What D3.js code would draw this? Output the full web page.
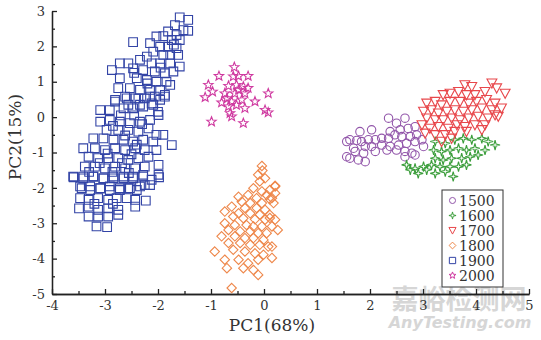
<!DOCTYPE html>
<html>
<head>
<meta charset="utf-8">
<script src="https://cdn.jsdelivr.net/npm/d3@7"></script>
<style>
  html, body { margin: 0; padding: 0; background: #fff; }
  svg { display: block; }
  .tick text { font-family: "DejaVu Serif", serif; font-size: 13px; fill: #333; }
</style>
</head>
<body>
<svg id="chart" width="541" height="340"></svg>
<script>
// PCA score plot: six groups, one small array of [PC1, PC2] pairs each,
// read off the reference picture.

const LABELS = ["1500", "1600", "1700", "1800", "1900", "2000"];

const pts1500 = [
  [2.35,-0.03],[2.50,-0.17],[2.66,-0.03],[1.81,-0.41],[2.03,-0.36],[2.38,-0.41],[2.57,-0.36],
  [2.72,-0.32],[2.85,-0.27],[1.62,-0.64],[1.75,-0.66],[1.84,-0.69],[1.97,-0.64],[2.10,-0.64],
  [2.22,-0.60],[2.35,-0.60],[2.47,-0.50],[2.60,-0.55],[2.76,-0.55],[2.88,-0.50],[1.56,-0.69],
  [1.69,-0.88],[1.91,-0.83],[2.03,-0.83],[2.22,-0.79],[2.38,-0.83],[2.54,-0.79],[2.69,-0.74],
  [2.85,-0.69],[2.98,-0.64],[1.56,-1.12],[1.72,-0.97],[1.88,-1.02],[2.10,-0.97],[2.32,-0.93],
  [2.50,-0.93],[2.66,-0.97],[2.79,-1.02],[1.62,-1.16],[1.78,-1.21],[1.91,-1.26],[2.66,-1.12],
  [2.85,-1.07],[3.01,-0.83]
];

const pts1600 = [
  [3.23,-0.69],[3.42,-0.74],[3.60,-0.64],[3.76,-0.60],[3.92,-0.64],[4.11,-0.60],[4.23,-0.69],
  [4.36,-0.79],[3.20,-0.93],[3.35,-0.97],[3.51,-0.93],[3.67,-0.88],[3.82,-0.93],[3.98,-0.88],
  [4.17,-0.93],[3.23,-1.16],[3.38,-1.21],[3.54,-1.16],[3.73,-1.16],[3.89,-1.12],[4.04,-1.07],
  [2.69,-1.35],[2.85,-1.45],[3.01,-1.40],[3.16,-1.35],[3.32,-1.40],[3.51,-1.40],[3.67,-1.40],
  [3.82,-1.35],[2.91,-1.59],[3.23,-1.59],[3.42,-1.54],[3.57,-1.68],[3.07,-1.49],[2.76,-1.49]
];

const pts1700 = [
  [3.79,0.91],[3.92,0.86],[4.30,0.96],[4.55,0.67],[3.38,0.63],[3.51,0.67],[3.67,0.72],
  [3.82,0.63],[3.98,0.63],[4.17,0.72],[4.39,0.82],[3.07,0.39],[3.23,0.44],[3.35,0.34],
  [3.51,0.44],[3.70,0.44],[3.86,0.39],[4.01,0.44],[4.20,0.49],[4.36,0.39],[3.01,0.16],
  [3.16,0.20],[3.29,0.11],[3.45,0.16],[3.60,0.20],[3.76,0.16],[3.92,0.20],[4.11,0.25],
  [4.30,0.20],[4.48,0.25],[3.07,-0.03],[3.23,-0.08],[3.38,-0.08],[3.54,-0.03],[3.70,-0.08],
  [3.86,-0.03],[4.04,0.02],[4.23,-0.03],[4.42,0.02],[2.98,-0.22],[3.13,-0.32],[3.29,-0.27],
  [3.48,-0.32],[3.64,-0.22],[3.79,-0.27],[3.98,-0.22],[4.17,-0.22],[4.36,0.06],[3.04,-0.46],
  [3.23,-0.50],[3.42,-0.50],[3.60,-0.41],[3.82,-0.41],[4.11,-0.36],[3.35,-0.69],[3.54,-0.60]
];

const pts1800 = [
  [-0.04,-1.38],[-0.03,-1.51],[-0.11,-1.63],[0.02,-1.73],[-0.08,-1.82],[0.21,-1.94],[-0.20,-2.01],
  [0.11,-2.06],[-0.04,-2.10],[-0.48,-2.25],[-0.30,-2.20],[0.05,-2.20],[0.21,-2.15],[-0.14,-2.29],
  [0.11,-2.32],[-0.42,-2.39],[-0.26,-2.43],[-0.04,-2.43],[0.18,-2.43],[-0.61,-2.53],[-0.36,-2.57],
  [-0.14,-2.57],[0.02,-2.62],[-0.74,-2.67],[-0.48,-2.72],[-0.26,-2.72],[-0.08,-2.76],[0.11,-2.76],
  [-0.58,-2.81],[-0.39,-2.86],[-0.17,-2.89],[0.02,-2.90],[0.21,-2.90],[-0.74,-3.00],[-0.55,-3.05],
  [-0.33,-3.05],[-0.20,-3.09],[-0.04,-3.09],[0.15,-3.09],[-0.67,-3.19],[-0.45,-3.23],[-0.26,-3.23],
  [-0.11,-3.28],[0.05,-3.28],[-0.80,-3.37],[-0.55,-3.37],[-0.36,-3.42],[-0.20,-3.42],[-0.01,-3.47],
  [-0.67,-3.56],[-0.45,-3.56],[-0.26,-3.61],[-0.08,-3.61],[0.08,-3.66],[-0.93,-3.80],[-0.58,-3.75],
  [-0.36,-3.80],[-0.17,-3.85],[-0.01,-3.89],[-0.74,-4.03],[-0.48,-4.03],[-0.30,-4.13],[-0.11,-4.03],
  [-0.70,-4.27],[-0.39,-4.27],[-0.20,-4.32],[-0.11,-4.46],[-0.61,-4.83],[0.21,-1.96],[0.15,-2.29],
  [0.11,-2.85],[0.26,-3.19],[0.15,-3.66],[0.15,-3.98]
];

const pts1900 = [
  [-1.43,2.75],[-1.59,2.82],[-1.68,2.60],[-1.52,2.46],[-1.43,2.44],[-1.81,2.42],[-1.65,2.32],
  [-1.90,2.29],[-1.74,2.18],[-1.59,2.18],[-2.03,2.28],[-2.15,2.09],[-2.47,2.12],[-1.96,1.99],
  [-1.81,1.99],[-1.65,1.95],[-2.09,1.85],[-1.90,1.76],[-1.77,1.76],[-2.21,1.71],[-1.62,1.76],
  [-2.34,1.62],[-2.12,1.52],[-1.96,1.52],[-1.77,1.52],[-1.59,1.43],[-2.72,1.52],[-2.56,1.52],
  [-2.87,1.33],[-2.47,1.38],[-2.28,1.33],[-2.06,1.29],[-1.87,1.24],[-1.71,1.29],[-2.72,1.10],
  [-2.40,1.10],[-2.21,1.05],[-2.03,1.00],[-1.84,1.00],[-2.75,0.82],[-2.53,0.82],[-2.34,0.77],
  [-2.15,0.77],[-1.96,0.77],[-1.77,0.91],[-2.62,0.58],[-2.43,0.53],[-2.25,0.53],[-2.06,0.58],
  [-1.87,0.63],[-2.81,0.44],[-2.56,0.35],[-2.34,0.35],[-2.12,0.39],
  [-2.81,0.49],[-2.59,0.53],[-2.37,0.53],[-2.15,0.58],[-1.96,0.49],[-1.87,0.58],[-3.09,0.20],
  [-2.91,0.20],[-2.65,0.25],[-2.47,0.25],[-2.28,0.30],[-2.09,0.35],[-3.09,-0.13],[-2.91,-0.08],
  [-2.72,-0.13],[-2.53,-0.17],[-2.34,-0.13],[-2.15,-0.08],[-1.99,0.06],[-2.97,-0.36],[-2.75,-0.36],
  [-2.56,-0.36],[-2.37,-0.41],[-2.18,-0.32],[-2.03,-0.50],[-1.90,-0.50],[-3.22,-0.60],[-3.03,-0.60],
  [-2.84,-0.64],[-2.65,-0.64],[-2.47,-0.69],[-2.28,-0.64],[-2.09,-0.69],[-1.74,-0.79],[-3.41,-0.88],
  [-3.19,-0.88],[-3.00,-0.93],[-2.81,-0.88],[-2.62,-0.93],[-2.43,-0.88],[-2.25,-0.93],[-2.03,-0.93],
  [-3.31,-1.12],[-3.13,-1.16],[-2.94,-1.16],[-2.75,-1.16],[-2.56,-1.21],[-2.37,-1.16],[-2.18,-1.12],
  [-3.38,-1.40],[-3.19,-1.40],[-3.00,-1.45],[-2.81,-1.40],[-2.62,-1.45],[-2.43,-1.45],[-2.25,-1.40],
  [-1.99,-1.35],[-3.60,-1.68],[-3.41,-1.68],[-3.22,-1.68],[-3.03,-1.73],[-2.84,-1.73],[-2.65,-1.68],
  [-2.47,-1.73],[-2.28,-1.68],[-1.99,-1.63],[-3.47,-1.96],[-3.28,-1.96],[-3.09,-2.01],[-2.91,-1.96],
  [-2.72,-2.01],[-2.53,-2.01],[-2.34,-1.96],[-2.15,-1.92],
  [-3.59,-1.70],[-3.41,-1.73],[-3.22,-1.68],[-3.03,-1.73],[-2.84,-1.68],[-2.65,-1.73],[-2.47,-1.68],
  [-2.28,-1.63],[-2.12,-1.77],[-1.98,-1.70],[-3.44,-2.01],[-3.28,-2.06],[-3.09,-2.01],[-2.91,-2.06],
  [-2.72,-2.06],[-2.56,-2.01],[-2.40,-2.06],[-2.25,-1.92],[-3.47,-2.29],[-3.31,-2.34],[-3.13,-2.29],
  [-2.94,-2.34],[-2.78,-2.29],[-2.59,-2.29],[-2.43,-2.34],[-2.23,-2.36],[-3.49,-2.58],[-3.31,-2.53],
  [-3.13,-2.62],[-2.94,-2.58],[-2.75,-2.62],[-2.43,-2.53],[-3.31,-2.81],[-3.13,-2.81],[-2.94,-2.81],
  [-2.75,-2.76],[-3.16,-3.09],[-2.96,-3.11],
  // in-between squares of the dense core
  [-2.85,-0.25],[-2.62,-0.52],[-2.40,-0.78],[-2.95,-1.03],[-2.68,-1.30],[-2.50,-1.05],[-3.10,-1.30],
  [-2.86,-1.55],[-2.55,-1.58],[-3.30,-1.55],[-2.30,-0.20],[-2.45,0.05],[-2.70,0.05],[-2.20,0.95],
  [-2.45,1.25],[-1.95,1.40],[-1.70,2.05],[-2.00,0.15],[-3.20,-2.45],[-2.85,-2.45]
];

const pts2000 = [
  [-0.56,1.41],[-0.85,1.16],[-0.58,1.15],[-0.48,1.16],[-0.30,1.16],[-1.05,0.91],[-0.67,0.88],
  [-0.52,0.91],[-0.39,0.86],[-0.97,0.72],[-0.74,0.67],[-0.55,0.67],[-0.36,0.67],[0.08,0.67],
  [-1.11,0.56],[-0.80,0.41],[-0.61,0.44],[-0.42,0.49],[-0.17,0.44],[-0.67,0.30],[-0.36,0.25],
  [0.02,0.20],[0.08,0.13],[-0.64,0.11],[-0.61,0.02],[-0.99,-0.13],[-0.39,-0.17],[-0.48,0.77],
  [-0.70,0.53],[-0.30,0.82],[-0.52,0.34]
];

const SERIES = [pts1500, pts1600, pts1700, pts1800, pts1900, pts2000];
const COLORS = ["#9256aa", "#3c9e3c", "#e8474b", "#ee874a", "#3344a6", "#cf3aa0"];

const X_TICKS = [-4, -3, -2, -1, 0, 1, 2, 3, 4, 5];
const Y_TICKS = [-5, -4, -3, -2, -1, 0, 1, 2, 3];

// marker outlines, centred on 0,0, scaled by r
function starPath(n, rOut, rIn) {
  const p = [];
  for (let i = 0; i < n * 2; i++) {
    const r = i % 2 ? rIn : rOut;
    const a = -Math.PI / 2 + i * Math.PI / n;
    p.push([r * Math.cos(a), r * Math.sin(a)]);
  }
  return "M" + p.map(d => d.join(",")).join("L") + "Z";
}
const MARKERS = [
  r => d3.symbol(d3.symbolCircle, Math.PI * r * r * 0.8)(),
  r => starPath(4, r * 1.05, r * 0.3),
  r => `M${-r * 1.05},${-r * 0.9}L${r * 1.05},${-r * 0.9}L0,${r * 1.05}Z`,
  r => `M0,${-r}L${r},0L0,${r}L${-r},0Z`,
  r => d3.symbol(d3.symbolSquare, (r * 1.85) * (r * 1.85))(),
  r => starPath(5, r * 1.05, r * 0.45),
];

const svg = d3.select("#chart");
const x = d3.scaleLinear().domain([-4, 5]).range([52, 529]);
const y = d3.scaleLinear().domain([-5, 3]).range([294, 11]);

// watermark sits behind everything
const wm = svg.append("g").attr("fill", "#cfcfcf").attr("opacity", 0.85);
wm.append("text").attr("x", 459).attr("y", 309)
  .attr("text-anchor", "middle")
  .style("font-family", "'Noto Sans CJK SC', sans-serif")
  .style("font-size", "27px").style("font-weight", "bold")
  .text("嘉峪检测网");
wm.append("text").attr("x", 460).attr("y", 328)
  .attr("text-anchor", "middle")
  .style("font-family", "'DejaVu Sans', sans-serif")
  .style("font-size", "16px").style("font-weight", "bold").style("font-style", "italic")
  .text("AnyTesting.com");

// axes: ticks point inwards, minor ticks every 0.5
function styleAxis(g) {
  g.selectAll(".domain, .tick line").attr("stroke", "#222").attr("stroke-width", 1.3);
}
const xMinor = d3.range(-3.5, 5, 1);
const yMinor = d3.range(-4.5, 3, 1);

svg.append("g").attr("transform", "translate(0,294)")
  .call(d3.axisBottom(x).tickValues(xMinor).tickFormat("").tickSize(-3).tickSizeOuter(0))
  .call(styleAxis);
svg.append("g").attr("transform", "translate(0,294)")
  .call(d3.axisBottom(x).tickValues(X_TICKS).tickFormat(d3.format("d")).tickSize(-5).tickSizeOuter(0).tickPadding(7))
  .call(styleAxis);
svg.append("g").attr("transform", "translate(52,0)")
  .call(d3.axisLeft(y).tickValues(yMinor).tickFormat("").tickSize(-3).tickSizeOuter(0))
  .call(styleAxis);
svg.append("g").attr("transform", "translate(52,0)")
  .call(d3.axisLeft(y).tickValues(Y_TICKS).tickFormat(d3.format("d")).tickSize(-5).tickSizeOuter(0).tickPadding(7))
  .call(styleAxis);
svg.selectAll(".tick text").text(function () { return this.textContent.replace("−", "-"); });

svg.append("text").attr("x", 272).attr("y", 331).attr("text-anchor", "middle")
  .style("font-family", "'DejaVu Serif', serif").style("font-size", "17px").attr("fill", "#333")
  .text("PC1(68%)");
svg.append("text").attr("transform", "translate(21,137) rotate(-90)").attr("text-anchor", "middle")
  .style("font-family", "'DejaVu Serif', serif").style("font-size", "17px").attr("fill", "#333")
  .text("PC2(15%)");

// points
SERIES.forEach((pts, i) => {
  svg.append("g")
    .selectAll("path")
    .data(pts)
    .enter()
    .append("path")
    .attr("d", MARKERS[i](4.7))
    .attr("transform", d => `translate(${x(d[0])},${y(d[1])})`)
    .attr("fill", "none")
    .attr("stroke", COLORS[i])
    .attr("stroke-width", 1.1);
});

// legend
const lg = svg.append("g");
lg.append("rect").attr("x", 442).attr("y", 190).attr("width", 61).attr("height", 97)
  .attr("fill", "#fff").attr("stroke", "#333").attr("stroke-width", 1);
LABELS.forEach((lab, i) => {
  const cy = 200.5 + i * 15;
  lg.append("path").attr("d", MARKERS[i](3.4))
    .attr("transform", `translate(452.5,${cy})`)
    .attr("fill", "none").attr("stroke", COLORS[i]).attr("stroke-width", 1);
  lg.append("text").attr("x", 459).attr("y", cy).attr("dy", "0.36em")
    .style("font-family", "'DejaVu Serif', serif").style("font-size", "14px").attr("fill", "#333")
    .text(lab);
});
</script>
</body>
</html>
